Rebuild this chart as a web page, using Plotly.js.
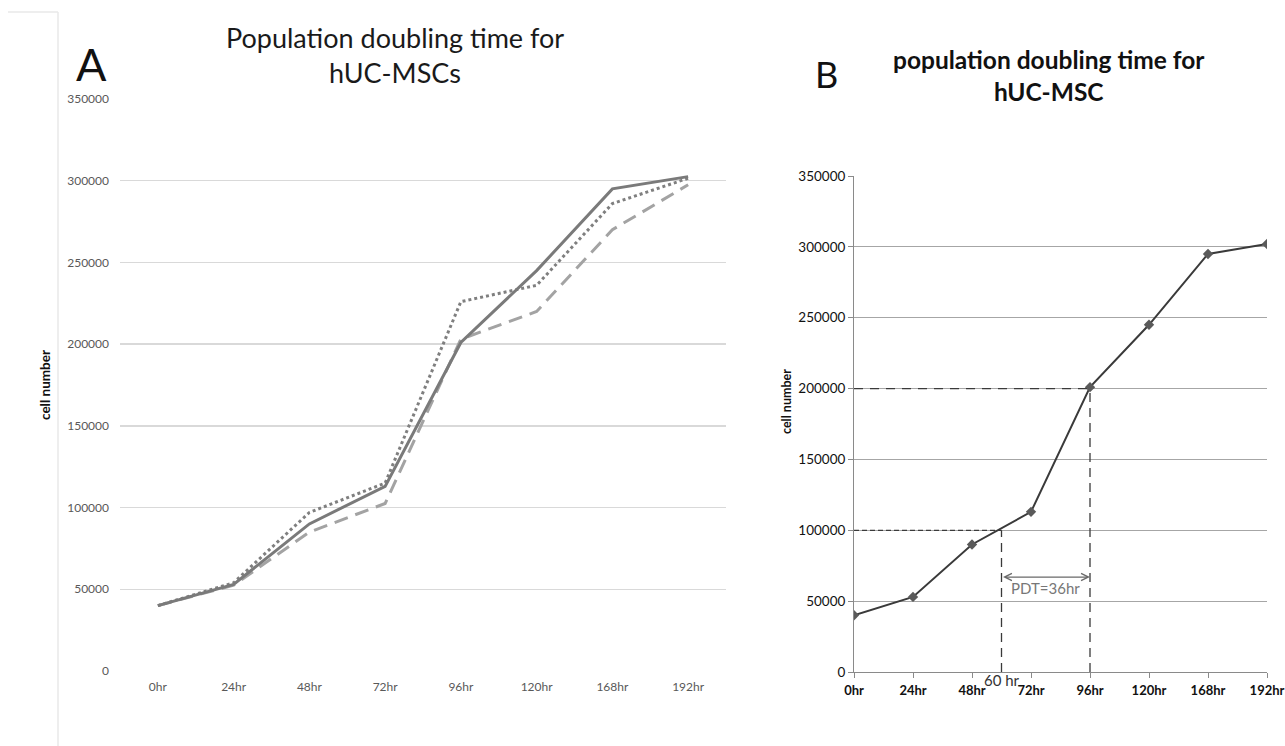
<!DOCTYPE html>
<html>
<head>
<meta charset="utf-8">
<script src="https://cdn.plot.ly/plotly-3.0.1.min.js"></script>
<style>html,body{margin:0;padding:0;background:#fff;}#chart{width:1285px;height:746px;}</style>
</head>
<body>
<div id="chart"></div>
<script>
// ---- data ----
var categories = ['0hr', '24hr', '48hr', '72hr', '96hr', '120hr', '168hr', '192hr'];
// Panel A: three replicate growth curves
var seriesSolid  = [40000, 53000, 90000, 113000, 201000, 245000, 295000, 302500];
var seriesDotted = [40000, 54000, 97000, 115000, 226000, 236000, 286000, 301500];
var seriesDashed = [40000, 52500, 85000, 102500, 203000, 220000, 270000, 297500];
// Panel B: mean growth curve
var pdtValues    = [40000, 53000, 90000, 113000, 201000, 245000, 295000, 302000];
// PDT construction
var startCells = 100000;
var doubledCells = 200000;
var startTimeIndex = 2.5;   // 60 hr, between 48hr and 72hr
var endTimeIndex = 4;       // 96hr
var startTimeLabel = '60 hr';
var pdtLabel = 'PDT=36hr';
var arrowLevel = 67000;
var pdtTextLevel = 59000;

var FONT = 'Lato, "Noto Sans", sans-serif';
var W = 1285, H = 746;
function px(x) { return x / W; }
function py(y) { return (H - y) / H; }

var traces = [
  {x: categories, y: seriesDashed, xaxis: 'x', yaxis: 'y', mode: 'lines',
   line: {color: '#a3a3a3', width: 3, dash: '14px,8px'}, hoverinfo: 'skip'},
  {x: categories, y: seriesDotted, xaxis: 'x', yaxis: 'y', mode: 'lines',
   line: {color: '#7f7f7f', width: 3, dash: '3px,3px'}, hoverinfo: 'skip'},
  {x: categories, y: seriesSolid, xaxis: 'x', yaxis: 'y', mode: 'lines',
   line: {color: '#7a7a7a', width: 3}, hoverinfo: 'skip'},
  {x: categories, y: pdtValues, xaxis: 'x2', yaxis: 'y2', mode: 'lines+markers',
   line: {color: '#3a3a3a', width: 2},
   marker: {symbol: 'diamond', size: 8, color: '#5a5a5a'}, hoverinfo: 'skip'}
];

var layout = {
  width: W, height: H,
  margin: {l: 0, r: 0, t: 0, b: 0},
  paper_bgcolor: '#ffffff', plot_bgcolor: '#ffffff',
  showlegend: false,
  font: {family: FONT, color: '#000'},
  xaxis: {
    domain: [px(120), px(726)], anchor: 'y', type: 'category',
    categoryorder: 'array', categoryarray: categories,
    range: [-0.5, 7.5], showgrid: false, showline: false, zeroline: false,
    ticks: '', tickfont: {family: FONT, size: 12, color: '#595959'},
    ticklabelstandoff: 7
  },
  yaxis: {
    domain: [py(671), py(99)], anchor: 'x', range: [0, 350000], dtick: 50000,
    tickformat: 'd', showline: false, zeroline: false, ticks: '',
    gridcolor: '#d9d9d9', gridwidth: 1.5,
    tickfont: {family: FONT, size: 12, color: '#595959'},
    ticklabelstandoff: 10
  },
  xaxis2: {
    domain: [px(854), px(1267)], anchor: 'y2', type: 'category',
    categoryorder: 'array', categoryarray: categories,
    range: [0, 7], showgrid: false, showline: true, linecolor: '#8a8a8a', linewidth: 1,
    zeroline: false, ticks: 'outside', ticklen: 5, tickcolor: '#8a8a8a',
    tickfont: {family: FONT, size: 13, color: '#111', weight: 'bold'},
    ticklabelstandoff: 1
  },
  yaxis2: {
    domain: [py(672), py(176)], anchor: 'x2', range: [0, 350000], dtick: 50000,
    tickformat: 'd', showline: true, linecolor: '#8a8a8a', linewidth: 1,
    zeroline: false, ticks: 'outside', ticklen: 5, tickcolor: '#8a8a8a',
    gridcolor: '#a6a6a6', gridwidth: 1,
    tickfont: {family: FONT, size: 13.5, color: '#111'}
  },
  shapes: [
    // faint frame of panel A
    {type: 'line', xref: 'paper', yref: 'paper', x0: px(58), x1: px(58), y0: 0, y1: py(12),
     line: {color: '#e8e8e8', width: 1.5}},
    {type: 'line', xref: 'paper', yref: 'paper', x0: px(8), x1: px(58), y0: py(12), y1: py(12),
     line: {color: '#e8e8e8', width: 1.5}},
    // PDT construction lines
    {type: 'line', xref: 'x2', yref: 'y2', x0: 0, x1: endTimeIndex, y0: doubledCells, y1: doubledCells,
     line: {color: '#3a3a3a', width: 1.3, dash: '9px,7px'}},
    {type: 'line', xref: 'x2', yref: 'y2', x0: 0, x1: startTimeIndex, y0: startCells, y1: startCells,
     line: {color: '#3a3a3a', width: 1.3, dash: '5px,3px'}},
    {type: 'line', xref: 'x2', yref: 'y2', x0: startTimeIndex, x1: startTimeIndex, y0: 0, y1: startCells,
     line: {color: '#3a3a3a', width: 1.3, dash: '9px,6px'}},
    {type: 'line', xref: 'x2', yref: 'y2', x0: endTimeIndex, x1: endTimeIndex, y0: 0, y1: doubledCells,
     line: {color: '#3a3a3a', width: 1.3, dash: '9px,6px'}}
  ],
  annotations: [
    {text: 'A', xref: 'paper', yref: 'paper', x: px(91), y: py(64), showarrow: false,
     xanchor: 'center', yanchor: 'middle', font: {family: FONT, size: 45, color: '#111'}},
    {text: 'Population doubling time for<br>hUC-MSCs', xref: 'paper', yref: 'paper',
     x: px(395), y: py(55), showarrow: false, xanchor: 'center', yanchor: 'middle',
     font: {family: FONT, size: 27, color: '#1a1a1a'}},
    {text: 'B', xref: 'paper', yref: 'paper', x: px(826), y: py(74), showarrow: false,
     xanchor: 'center', yanchor: 'middle', font: {family: FONT, size: 36, color: '#111'}},
    {text: 'population doubling time for<br>hUC-MSC', xref: 'paper', yref: 'paper',
     x: px(1049), y: py(76), showarrow: false, xanchor: 'center', yanchor: 'middle',
     font: {family: FONT, size: 24.5, color: '#111', weight: 'bold'}},
    {text: 'cell number', xref: 'paper', yref: 'paper', x: px(45), y: py(385), textangle: -90,
     showarrow: false, xanchor: 'center', yanchor: 'middle',
     font: {family: FONT, size: 13.5, color: '#111', weight: 'bold'}},
    {text: 'cell number', xref: 'paper', yref: 'paper', x: px(786), y: py(402), textangle: -90,
     showarrow: false, xanchor: 'center', yanchor: 'middle',
     font: {family: FONT, size: 12.5, color: '#111', weight: 'bold'}},
    {text: '', xref: 'x2', yref: 'y2', x: endTimeIndex, y: arrowLevel,
     axref: 'x2', ayref: 'y2', ax: startTimeIndex, ay: arrowLevel,
     showarrow: true, arrowside: 'end+start', arrowhead: 5, startarrowhead: 5,
     arrowsize: 1.2, startarrowsize: 1.2, arrowwidth: 1.2, arrowcolor: '#6a6a6a',
     standoff: 0, startstandoff: 0},
    {text: pdtLabel, xref: 'x2', yref: 'y2', x: (startTimeIndex + endTimeIndex) / 2, y: pdtTextLevel,
     showarrow: false, xanchor: 'center', yanchor: 'middle',
     font: {family: FONT, size: 15, color: '#777'}},
    {text: startTimeLabel, xref: 'x2', yref: 'y2 domain', x: startTimeIndex, y: -0.017,
     showarrow: false, xanchor: 'center', yanchor: 'middle',
     font: {family: FONT, size: 15, color: '#333'}}
  ]
};

Plotly.newPlot('chart', traces, layout, {displayModeBar: false, staticPlot: true});
</script>
</body>
</html>
